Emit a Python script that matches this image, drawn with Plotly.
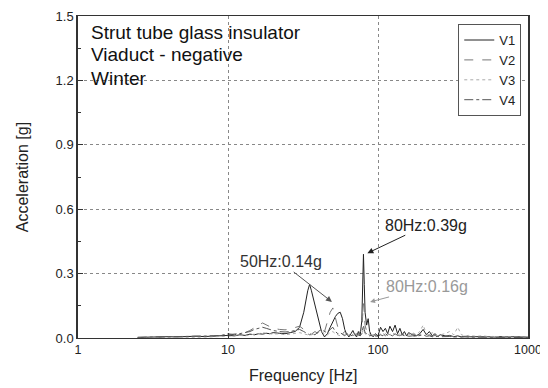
import plotly.graph_objects as go

freq = [2.5, 3, 3.5, 4, 4.5, 5, 5.5, 6, 7, 8,
        9, 10, 11, 12, 13, 14, 15, 16, 17, 18,
        19, 20, 22, 24, 26, 28, 30, 32, 34, 35,
        36, 38, 40, 42, 44, 46, 48, 50, 52, 54,
        56, 58, 60, 62, 64, 66, 68, 70, 72, 74,
        76, 78, 79, 80, 81, 82, 84, 86, 88, 90,
        93, 96, 100, 104, 108, 112, 116, 120, 125, 130,
        135, 140, 145, 150, 155, 160, 170, 180, 190, 200,
        210, 220, 230, 240, 250, 260, 280, 300, 320, 340,
        360, 380, 400, 450, 500, 550, 600, 650, 700, 750,
        800, 850, 900, 950, 1000]

v1 = [0.003, 0.005, 0.004, 0.006, 0.005, 0.007, 0.006, 0.008, 0.007, 0.009,
      0.010, 0.012, 0.010, 0.015, 0.012, 0.018, 0.015, 0.020, 0.018, 0.022,
      0.020, 0.025, 0.022, 0.020, 0.025, 0.030, 0.050, 0.120, 0.220, 0.250,
      0.220, 0.150, 0.080, 0.030, 0.005, 0.020, 0.050, 0.080, 0.100, 0.115,
      0.120, 0.090, 0.040, 0.015, 0.005, 0.020, 0.035, 0.015, 0.005, 0.030,
      0.010, 0.080, 0.300, 0.390, 0.250, 0.120, 0.060, 0.090, 0.030, 0.015,
      0.005, 0.020, 0.010, 0.050, 0.030, 0.045, 0.020, 0.055, 0.030, 0.060,
      0.020, 0.045, 0.015, 0.030, 0.010, 0.025, 0.015, 0.010, 0.020, 0.040,
      0.015, 0.030, 0.010, 0.020, 0.008, 0.015, 0.010, 0.012, 0.006, 0.010,
      0.005, 0.008, 0.006, 0.007, 0.005, 0.006, 0.004, 0.007, 0.005, 0.006,
      0.004, 0.006, 0.005, 0.006, 0.004]

v2 = [0.002, 0.003, 0.004, 0.003, 0.005, 0.004, 0.006, 0.005, 0.007, 0.008,
      0.010, 0.015, 0.018, 0.020, 0.025, 0.035, 0.050, 0.060, 0.070, 0.060,
      0.050, 0.045, 0.040, 0.038, 0.042, 0.048, 0.055, 0.040, 0.030, 0.020,
      0.018, 0.030, 0.020, 0.010, 0.030, 0.080, 0.120, 0.140, 0.100, 0.050,
      0.030, 0.020, 0.030, 0.015, 0.010, 0.020, 0.015, 0.025, 0.010, 0.020,
      0.030, 0.040, 0.100, 0.160, 0.120, 0.060, 0.030, 0.040, 0.020, 0.010,
      0.015, 0.010, 0.020, 0.015, 0.025, 0.010, 0.020, 0.015, 0.010, 0.025,
      0.015, 0.010, 0.020, 0.012, 0.015, 0.010, 0.020, 0.012, 0.015, 0.025,
      0.010, 0.015, 0.008, 0.012, 0.010, 0.008, 0.012, 0.010, 0.006, 0.008,
      0.005, 0.007, 0.006, 0.005, 0.006, 0.004, 0.005, 0.004, 0.005, 0.004,
      0.004, 0.005, 0.003, 0.004, 0.003]

v3 = [0.002, 0.002, 0.003, 0.003, 0.004, 0.003, 0.004, 0.005, 0.004, 0.006,
      0.006, 0.008, 0.010, 0.012, 0.010, 0.015, 0.018, 0.020, 0.025, 0.022,
      0.020, 0.018, 0.020, 0.015, 0.018, 0.020, 0.025, 0.020, 0.015, 0.012,
      0.015, 0.020, 0.025, 0.030, 0.020, 0.015, 0.025, 0.030, 0.020, 0.015,
      0.010, 0.020, 0.015, 0.010, 0.015, 0.020, 0.010, 0.015, 0.010, 0.012,
      0.015, 0.020, 0.030, 0.040, 0.030, 0.020, 0.015, 0.020, 0.010, 0.015,
      0.010, 0.015, 0.010, 0.020, 0.015, 0.010, 0.020, 0.015, 0.025, 0.015,
      0.010, 0.020, 0.015, 0.010, 0.020, 0.015, 0.025, 0.015, 0.030, 0.060,
      0.020, 0.015, 0.025, 0.015, 0.010, 0.015, 0.020, 0.030, 0.015, 0.050,
      0.015, 0.010, 0.012, 0.008, 0.010, 0.006, 0.008, 0.005, 0.006, 0.005,
      0.004, 0.005, 0.004, 0.004, 0.003]

v4 = [0.003, 0.004, 0.003, 0.005, 0.004, 0.006, 0.005, 0.007, 0.008, 0.010,
      0.012, 0.020, 0.015, 0.020, 0.025, 0.030, 0.040, 0.045, 0.050, 0.045,
      0.040, 0.035, 0.030, 0.028, 0.030, 0.035, 0.040, 0.030, 0.020, 0.015,
      0.020, 0.015, 0.030, 0.040, 0.030, 0.025, 0.040, 0.050, 0.030, 0.020,
      0.025, 0.015, 0.010, 0.020, 0.015, 0.010, 0.015, 0.010, 0.020, 0.015,
      0.010, 0.020, 0.040, 0.060, 0.040, 0.025, 0.020, 0.015, 0.010, 0.012,
      0.008, 0.010, 0.008, 0.015, 0.010, 0.020, 0.012, 0.015, 0.010, 0.020,
      0.012, 0.010, 0.015, 0.010, 0.012, 0.008, 0.010, 0.008, 0.012, 0.015,
      0.008, 0.010, 0.006, 0.008, 0.007, 0.006, 0.008, 0.007, 0.005, 0.006,
      0.004, 0.005, 0.004, 0.004, 0.005, 0.003, 0.004, 0.003, 0.004, 0.003,
      0.003, 0.004, 0.003, 0.003, 0.002]

series_names = ["V1", "V2", "V3", "V4"]
series_values = [v1, v2, v3, v4]
series_colors = ["#222222", "#777777", "#aaaaaa", "#555555"]
series_dash = ["solid", "dash", "dot", "dashdot"]

title_lines = ["Strut tube glass insulator", "Viaduct - negative", "Winter"]

FONT = "Arial, Liberation Sans, sans-serif"

fig = go.Figure()
for name, vals, col, dash in zip(series_names, series_values, series_colors, series_dash):
    fig.add_trace(go.Scatter(x=freq, y=vals, mode="lines", name=name,
                             line=dict(color=col, width=1, dash=dash)))

annotations = []
for t, yy in zip(title_lines, [0.950, 0.879, 0.807]):
    annotations.append(dict(text=t, xref="paper", yref="paper", x=0.025, y=yy,
                            xanchor="left", yanchor="middle", showarrow=False,
                            font=dict(family=FONT, size=19, color="#111111")))

annotations.append(dict(text="80Hz:0.39g", x=1.929, y=0.395, xref="x", yref="y",
                        ax=59, ay=-28, showarrow=True, arrowhead=2, arrowsize=1.2,
                        arrowwidth=1, arrowcolor="#222222",
                        font=dict(family=FONT, size=16, color="#222222")))
annotations.append(dict(text="50Hz:0.14g", x=1.693, y=0.168, xref="x", yref="y",
                        ax=-51, ay=-40, showarrow=True, arrowhead=2, arrowsize=1.2,
                        arrowwidth=1, arrowcolor="#555555",
                        font=dict(family=FONT, size=16, color="#333333")))
annotations.append(dict(text="80Hz:0.16g", x=1.947, y=0.168, xref="x", yref="y",
                        ax=57, ay=-15, showarrow=True, arrowhead=2, arrowsize=1.0,
                        arrowwidth=1, arrowcolor="#999999",
                        font=dict(family=FONT, size=16, color="#999999")))

# axis titles
annotations.append(dict(text="Frequency [Hz]", xref="paper", yref="paper",
                        x=0.5, y=-0.115, xanchor="center", yanchor="middle",
                        showarrow=False, font=dict(family=FONT, size=16, color="#222222")))
annotations.append(dict(text="Acceleration [g]", xref="paper", yref="paper",
                        x=-0.124, y=0.5, xanchor="center", yanchor="middle",
                        textangle=-90, showarrow=False,
                        font=dict(family=FONT, size=16, color="#222222")))

fig.update_layout(
    width=540, height=380,
    margin=dict(l=70, r=20, t=8, b=50),
    paper_bgcolor="white", plot_bgcolor="white",
    font=dict(family=FONT, size=13, color="#222222"),
    showlegend=True,
    legend=dict(x=0.985, y=0.975, xanchor="right", yanchor="top",
                bgcolor="white", bordercolor="#555555", borderwidth=1,
                font=dict(family=FONT, size=13), tracegroupgap=0,
                itemwidth=30),
    annotations=annotations,
)

fig.update_xaxes(type="log", range=[0, 3], tickvals=[1, 10, 100, 1000],
                 ticktext=["1", "10", "100", "1000"], automargin=False,
                 showline=True, linecolor="#333333", linewidth=1, mirror=True,
                 showgrid=True, gridcolor="#888888", griddash="dot", gridwidth=1,
                 ticks="inside", ticklen=5, tickcolor="#333333",
                 zeroline=False,
                 tickfont=dict(family=FONT, size=12.5))

fig.update_yaxes(range=[0, 1.5], tickvals=[0, 0.3, 0.6, 0.9, 1.2, 1.5],
                 ticktext=["0.0", "0.3", "0.6", "0.9", "1.2", "1.5"], automargin=False,
                 showline=True, linecolor="#333333", linewidth=1.5, mirror=True,
                 showgrid=True, gridcolor="#888888", griddash="dot", gridwidth=1,
                 ticks="inside", ticklen=5, tickcolor="#333333",
                 minor=dict(tickvals=[0.15, 0.45, 0.75, 1.05, 1.35], ticks="inside",
                            ticklen=3, tickcolor="#333333", showgrid=False),
                 zeroline=False,
                 tickfont=dict(family=FONT, size=13))

fig.write_html("out.html")
